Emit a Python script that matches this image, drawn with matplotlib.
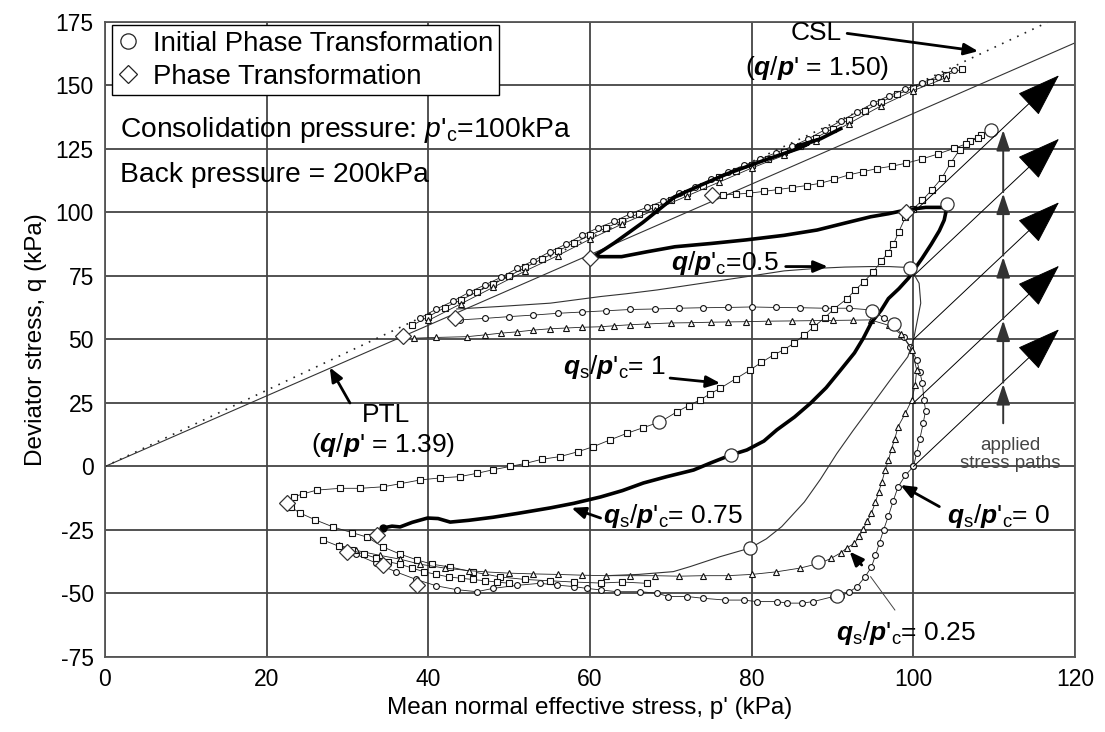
import matplotlib
matplotlib.use("Agg")
import matplotlib.pyplot as plt
from matplotlib.lines import Line2D

plt.rcParams['font.family'] = ['Liberation Sans', 'DejaVu Sans']
plt.rcParams['mathtext.fontset'] = 'custom'
plt.rcParams['mathtext.rm'] = 'Liberation Sans'
plt.rcParams['mathtext.it'] = 'Liberation Sans:italic'
plt.rcParams['mathtext.bf'] = 'Liberation Sans:bold'
plt.rcParams['mathtext.bfit'] = 'Liberation Sans:bold:italic'
plt.rcParams['axes.unicode_minus'] = False

# ---- data: p' (kPa), q (kPa) ----
csl_slope = 1.50
ptl_slope = 1.39
qs_start = [0, 25, 50, 75, 100]          # start of applied stress paths at p' = 100
path_end_p = 118.0
path_rise = 54.0

# q_s/p'_c = 0  (small circles)
c0_up_p = [100.0, 100.4, 100.8, 101.2, 101.5, 101.3, 101.1, 100.8, 100.4, 99.6, 98.8, 97.6, 96.3, 94.9]
c0_up_q = [0.0, 5.3, 11.0, 17.0, 22.0, 26.2, 32.8, 37.0, 41.9, 47.2, 51.0, 55.7, 58.5, 61.6]
c0_row_p = [94.9, 92.0, 89.0, 86.0, 83.0, 80.0, 77.0, 74.0, 71.0, 68.0, 65.0, 62.0, 59.0, 56.0, 53.0, 50.0, 47.0, 43.9]
c0_row_q = [61.6, 62.3, 62.3, 62.5, 62.6, 62.8, 62.6, 62.5, 62.3, 62.0, 61.8, 61.3, 60.8, 60.3, 59.6, 59.0, 58.3, 57.7]
c0_dn_p = [100.0, 99.0, 98.1, 97.5, 96.9, 96.3, 95.8, 95.3, 94.8, 94.0, 93.0, 92.0, 91.0, 90.1, 87.6, 86.2, 84.4, 83.1,
           80.6, 79.0, 76.7, 74.0, 72.0, 69.7, 68.3, 66.2, 63.3, 61.3, 59.6, 58.0, 55.9, 53.8, 51.0, 48.0, 46.0,
           43.5, 41.0, 38.5, 36.0, 33.5, 31.0]
c0_dn_q = [0.0, -3.5, -8.0, -13.5, -19.5, -25.0, -30.0, -35.0, -39.6, -43.5, -47.4, -49.5, -51.0, -51.2, -53.2, -53.8,
           -53.8, -53.2, -53.2, -52.6, -52.6, -51.9, -51.2, -51.2, -49.9, -49.3, -49.3, -48.6, -48.0, -47.3, -46.7,
           -46.0, -46.8, -48.0, -49.3, -48.5, -47.0, -44.5, -41.5, -38.0, -34.5]

# q_s/p'_c = 1  (squares)
s1_top_p = [101.1, 102.3, 103.5, 104.6, 105.7, 107.0, 108.3, 109.6, 108.0, 106.5, 105.0, 103.0, 101.0, 99.1, 97.3,
            95.5, 93.7, 92.0, 90.2, 88.5, 86.8, 85.0, 83.2, 81.5, 79.7, 78.0, 76.4, 75.0]
s1_top_q = [104.8, 109.0, 113.5, 119.5, 124.6, 128.0, 130.5, 132.5, 129.5, 127.0, 125.2, 123.0, 121.0, 119.4, 118.2,
            117.3, 116.0, 114.8, 113.0, 111.5, 110.6, 109.8, 109.0, 108.3, 107.6, 107.2, 106.9, 106.5]
s1_dn_p = [101.1, 100.0, 99.0, 98.2, 97.5, 96.8, 96.0, 95.0, 93.9, 92.8, 91.8, 90.2, 89.0, 87.7, 86.5, 85.2, 84.0,
           82.7, 81.2, 79.8, 78.0, 76.1, 74.8, 73.6, 72.2, 70.8, 68.7, 66.5, 64.6, 62.5, 60.4, 58.5, 56.3, 54.0,
           52.0, 50.1, 48.0, 46.0, 43.9, 41.5, 39.0, 36.5, 34.4, 31.6, 29.1, 26.2, 24.5, 23.4, 22.5, 23.0, 24.1,
           26.0, 28.2, 30.5, 32.4, 34.4, 36.5, 38.6, 40.5, 42.7, 45.5, 48.9, 52.0, 55.0, 58.0, 61.3, 64.0, 67.0]
s1_dn_q = [104.8, 101.5, 98.1, 92.5, 87.4, 84.0, 80.7, 76.5, 72.8, 69.5, 66.1, 62.1, 58.5, 55.0, 51.8, 48.5, 46.0,
           43.9, 41.0, 38.0, 34.5, 30.8, 28.5, 26.2, 24.0, 21.6, 17.6, 15.2, 13.1, 10.5, 7.8, 5.8, 3.9, 2.8,
           1.2, 0.0, -1.3, -2.7, -4.0, -4.5, -5.3, -6.8, -8.0, -8.6, -8.6, -9.3, -10.8, -11.9, -13.5, -16.0, -18.3,
           -21.0, -23.8, -26.0, -27.8, -31.7, -34.5, -36.8, -38.5, -39.6, -41.5, -43.5, -44.5, -45.0, -45.5, -45.9,
           -45.5, -46.0]

# q_s/p'_c = 0.25  (triangles)
t25_p = [38.2, 41.0, 44.8, 47.0, 49.0, 51.0, 53.0, 55.0, 57.0, 59.0, 61.3, 63.0, 65.0, 67.0, 70.0, 72.5, 75.0, 77.0,
         79.3, 82.0, 85.0, 87.5, 90.0, 92.5, 94.7, 97.0, 98.5, 99.8, 100.4, 100.2, 99.8, 99.0, 98.1, 97.7, 97.3,
         96.9, 96.5, 96.1, 95.7, 95.3, 94.8, 94.3, 93.8, 93.3, 92.7, 91.8, 91.0, 89.8, 88.5, 86.0, 83.0, 80.0,
         77.0, 74.0, 71.0, 68.0, 65.0, 62.0, 59.0, 56.0, 53.0, 50.0, 47.0, 45.0, 42.0, 39.0, 36.5, 34.0, 31.0, 29.0]
t25_q = [50.5, 50.8, 51.1, 51.8, 52.5, 53.0, 53.7, 54.2, 54.5, 54.8, 55.0, 55.4, 55.8, 56.1, 56.5, 56.6, 56.8, 56.9,
         57.0, 57.2, 57.3, 57.4, 57.5, 57.6, 57.7, 55.5, 52.0, 46.0, 38.0, 32.0, 26.2, 21.0, 15.7, 11.0, 7.0,
         2.5, -1.4, -6.0, -10.0, -14.0, -18.4, -21.5, -24.5, -27.5, -30.2, -32.0, -34.0, -36.2, -38.0, -40.0, -41.5,
         -42.5, -43.0, -43.0, -43.2, -43.0, -43.0, -43.0, -42.8, -42.5, -42.3, -42.0, -41.5, -41.0, -40.0, -38.5,
         -36.5, -35.0, -33.0, -31.0]

# q_s/p'_c = 0.5  (thin line, no markers)
t50_p = [62.0, 66.0, 70.3, 72.4, 76.1, 79.8, 81.8, 83.7, 86.5, 88.5, 90.5, 92.5, 94.7, 97.0, 99.3, 100.0, 100.9,
         100.7, 99.6, 97.0, 94.7, 91.5, 88.1, 84.0, 79.3, 74.0, 68.3, 64.5, 61.3, 55.1, 48.9, 43.5]
t50_q = [-43.0, -42.5, -41.4, -39.4, -35.5, -32.1, -28.5, -23.7, -14.0, -5.0, 5.0, 14.0, 23.5, 33.5, 43.2, 49.8,
         64.3, 72.1, 78.3, 78.7, 78.7, 78.5, 78.0, 77.0, 74.7, 72.2, 69.5, 68.0, 66.9, 64.3, 63.0, 62.0]

# q_s/p'_c = 0.75  (thick line)
t75_p = [34.4, 35.5, 36.5, 38.0, 39.9, 41.2, 42.7, 45.0, 48.0, 51.0, 55.1, 58.0, 61.3, 64.0, 66.6, 69.5, 72.8, 75.0,
         77.4, 79.4, 81.5, 83.1, 85.3, 87.3, 89.2, 91.0, 92.7, 93.8, 94.8, 96.0, 96.9, 98.2, 99.4, 100.2, 101.1,
         102.2, 103.2, 103.8, 104.1, 103.5, 101.5, 99.1, 96.9, 94.7, 91.5, 88.1, 84.0, 79.3, 75.0, 70.5, 67.0,
         63.9, 60.4, 63.0, 66.5, 70.5, 73.5, 77.1, 81.5, 85.9, 87.0, 85.5, 88.5, 91.0]
t75_q = [-24.2, -23.5, -23.8, -22.0, -20.3, -20.5, -21.9, -21.2, -20.0, -18.5, -16.3, -14.5, -12.0, -9.5, -6.5, -4.0,
         -1.4, 1.5, 4.5, 6.5, 10.0, 14.4, 19.5, 25.0, 31.0, 38.0, 44.7, 50.5, 56.7, 61.5, 66.1, 70.0, 74.2, 78.0,
         82.1, 87.5, 92.8, 97.0, 101.5, 102.0, 102.0, 101.0, 99.5, 98.3, 95.8, 93.1, 91.0, 89.2, 87.8, 86.5, 84.5,
         82.6, 82.6, 88.0, 96.0, 106.2, 110.5, 115.4, 120.5, 125.3, 127.0, 126.0, 129.0, 133.0]

# upper band near the critical state line (all tests)
band_sq_p = [38, 40, 42, 44, 46, 48, 50, 52, 54, 56, 58, 60, 62, 64, 66, 68, 70, 72, 74, 76, 78, 80, 82, 84, 86,
             88, 90, 92, 94, 96, 98, 100, 102, 104, 106]
band_sq_q = [55.5, 59.0, 62.5, 65.5, 68.7, 71.8, 75.0, 78.4, 81.6, 84.8, 88.0, 91.0, 94.0, 96.8, 99.5, 102.0, 104.8,
             107.5, 110.6, 113.8, 116.3, 118.8, 121.2, 123.7, 126.0, 129.5, 133.0, 136.5, 140.0, 143.5, 146.5,
             149.0, 151.5, 154.0, 156.5]
band_ci_p = [39, 41, 43, 45, 47, 49, 51, 53, 55, 57, 59, 61, 63, 65, 67, 69, 71, 73, 75, 77, 79, 81, 83, 85, 87,
             89, 91, 93, 95, 97, 99, 101, 103, 105]
band_ci_q = [58.5, 62.0, 65.0, 68.5, 71.5, 74.5, 78.0, 81.0, 84.5, 87.5, 91.0, 94.0, 96.5, 99.5, 102.0, 104.5,
             107.5, 110.0, 113.0, 116.0, 118.5, 121.0, 123.5, 126.0, 129.0, 132.5, 136.0, 139.5, 143.0, 146.0,
             148.5, 151.0, 153.5, 156.0]
band_tr_p = [40, 44, 48, 52, 56, 60, 64, 68, 72, 76, 80, 84, 88, 92, 96, 100, 104]
band_tr_q = [57.5, 64.0, 70.5, 77.0, 83.0, 89.5, 95.5, 101.0, 106.5, 112.0, 117.5, 122.5, 128.0, 135.0, 142.0,
             148.0, 153.0]

# dense lower-left cluster (extension side)
lo_p = [27.0, 29.0, 30.5, 32.0, 33.5, 35.0, 36.5, 38.0, 39.5, 41.0, 42.5, 44.0, 45.5, 47.0, 48.5, 50.0]
lo_q = [-29.0, -31.5, -33.0, -34.5, -36.0, -37.5, -38.5, -40.0, -41.5, -42.5, -43.5, -44.0, -44.5, -45.0, -45.5, -46.0]

# phase transformation points
ipt_p = [104.1, 109.6, 99.6, 97.6, 94.9, 77.4, 68.5, 79.8, 88.2, 90.6]
ipt_q = [103.5, 132.5, 78.3, 56.2, 61.2, 4.5, 17.4, -32.1, -37.5, -51.0]
pt_p = [75.1, 60.0, 43.3, 36.9, 99.1, 22.5, 33.6, 29.9, 34.4, 38.6]
pt_q = [106.9, 82.1, 58.5, 51.5, 100.0, -14.4, -27.0, -33.5, -38.8, -46.7]

# vertical arrows of the applied paths (p' constant)
vert_p = 111.1
vert_q = [17, 33, 58, 83, 108, 133]

fig = plt.figure(figsize=(11.05, 7.32), dpi=100)
ax = fig.add_axes([0.095, 0.1025, 0.878, 0.8675])

line_kw = dict(color='#222222', lw=0.6)


def path(p, q, marker, ms=4.2):
    ax.plot(p, q, marker=marker, ms=ms, mfc='white', mec='#111111', mew=0.8, **line_kw)


# reference lines
ax.plot([0, 120], [0, 120 * ptl_slope], color='#333333', lw=0.8)
ax.plot([0, 175 / csl_slope], [0, 175], color='#222222', lw=1.2, ls=(0, (1, 4)))

# applied stress paths
for qs in qs_start:
    ax.annotate("", xy=(path_end_p, qs + path_rise), xytext=(100, qs),
                arrowprops=dict(arrowstyle='-|>,head_length=1.1,head_width=0.38', mutation_scale=26,
                                lw=0.7, color='black', shrinkA=0, shrinkB=0))
for a, b in zip(vert_q[:-1], vert_q[1:]):
    ax.annotate("", xy=(vert_p, b), xytext=(vert_p, a),
                arrowprops=dict(arrowstyle='-|>,head_length=0.9,head_width=0.3', mutation_scale=14,
                                lw=1.4, color='#333333', shrinkA=0, shrinkB=1))

# test paths
path(band_sq_p, band_sq_q, 's')
path(band_ci_p, band_ci_q, 'o')
path(band_tr_p, band_tr_q, '^')
path(c0_up_p, c0_up_q, 'o')
path(c0_row_p, c0_row_q, 'o')
path(c0_dn_p, c0_dn_q, 'o')
path(s1_top_p, s1_top_q, 's')
path(s1_dn_p, s1_dn_q, 's')
path(t25_p, t25_q, '^')
path(lo_p, lo_q, 's', ms=4.8)
ax.plot(t50_p, t50_q, color='#333333', lw=0.8)
ax.plot(t75_p, t75_q, color='black', lw=2.6)
ax.plot(t75_p[0], t75_q[0], 'o', color='black', ms=5)

ax.plot(ipt_p, ipt_q, 'o', ls='none', ms=9.5, mfc='white', mec='#333333', mew=0.9)
ax.plot(pt_p, pt_q, 'D', ls='none', ms=8, mfc='white', mec='#333333', mew=0.9)

# labels with leader arrows
lead = dict(arrowstyle='-|>,head_length=0.6,head_width=0.25', mutation_scale=14, lw=2, color='black',
            shrinkA=0, shrinkB=0)
fs = 19
qp = r"$\mathbfit{q}/\mathbfit{p}$'"
qspc = r"$\mathbfit{q}_{\rm s}/\mathbfit{p}$'$_{\rm c}$"
ax.text(88, 170.5, "CSL", fontsize=fs, ha='center', va='center')
ax.annotate("", xy=(108, 163.5), xytext=(91.8, 170.5), arrowprops=lead)
ax.text(88.1, 157, "(" + qp + " = 1.50)", fontsize=fs, ha='center', va='center')
ax.text(34.7, 20.3, "PTL", fontsize=fs, ha='center', va='center')
ax.annotate("", xy=(27.8, 39), xytext=(30.3, 25), arrowprops=lead)
ax.text(34.4, 8.5, "(" + qp + " = 1.39)", fontsize=fs, ha='center', va='center')
ax.text(76.7, 80.3, r"$\mathbfit{q}/\mathbfit{p}$'$_{\rm c}$=0.5", fontsize=fs, ha='center', va='center')
ax.annotate("", xy=(89.4, 78.7), xytext=(84.2, 78.7), arrowprops=lead)
ax.text(63, 39, qspc + "= 1", fontsize=fs, ha='center', va='center')
ax.annotate("", xy=(76.1, 32.8), xytext=(69.9, 34.8), arrowprops=lead)
ax.text(70.2, -19.5, qspc + "= 0.75", fontsize=fs, ha='center', va='center')
ax.annotate("", xy=(57.7, -16.3), xytext=(61.3, -20.3), arrowprops=lead)
ax.text(110.5, -19.5, qspc + "= 0", fontsize=fs, ha='center', va='center')
ax.annotate("", xy=(98.4, -7.3), xytext=(103.2, -15.8), arrowprops=lead)
ax.text(99.1, -65.5, qspc + "= 0.25", fontsize=fs, ha='center', va='center')
ax.annotate("", xy=(92.1, -33.5), xytext=(93.6, -38.8), arrowprops=lead)
ax.plot([97.7, 94.7], [-56.5, -43.4], color='#444444', lw=0.7)
ax.text(112.0, 4.6, "applied\nstress paths", fontsize=13.5, color='#444444', ha='center', va='center',
        linespacing=1.1)

ax.text(1.9, 132.5, r"Consolidation pressure: $\mathit{p}$'$_{\rm c}$=100kPa", fontsize=20.3, va='center')
ax.text(1.9, 114.8, "Back pressure = 200kPa", fontsize=20.3, va='center')

handles = [Line2D([], [], marker='o', ls='none', ms=11, mfc='white', mec='#222222', mew=0.9),
           Line2D([], [], marker='D', ls='none', ms=9, mfc='white', mec='#222222', mew=0.9)]
leg = ax.legend(handles, ["Initial Phase Transformation", "Phase Transformation"], loc='upper left',
                bbox_to_anchor=(0.007, 0.995), borderaxespad=0, fontsize=19.8, frameon=True, fancybox=False,
                framealpha=1, edgecolor='black', handlelength=0.8, handletextpad=0.5, borderpad=0.2,
                labelspacing=0.25)
leg.get_frame().set_linewidth(1.0)

ax.set_xlim(0, 120)
ax.set_ylim(-75, 175)
ax.set_xticks(range(0, 121, 20))
ax.set_yticks(range(-75, 176, 25))
ax.tick_params(length=0, labelsize=16.5, pad=8)
ax.grid(True, color='#444444', lw=1.3)
ax.set_axisbelow(True)
for s in ax.spines.values():
    s.set_color('#555555')
    s.set_linewidth(1.3)
ax.set_xlabel("Mean normal effective stress, p' (kPa)", fontsize=17.5, labelpad=4)
ax.set_ylabel("Deviator stress, q (kPa)", fontsize=17.5, labelpad=6)

fig.savefig("out.png", dpi=100)
